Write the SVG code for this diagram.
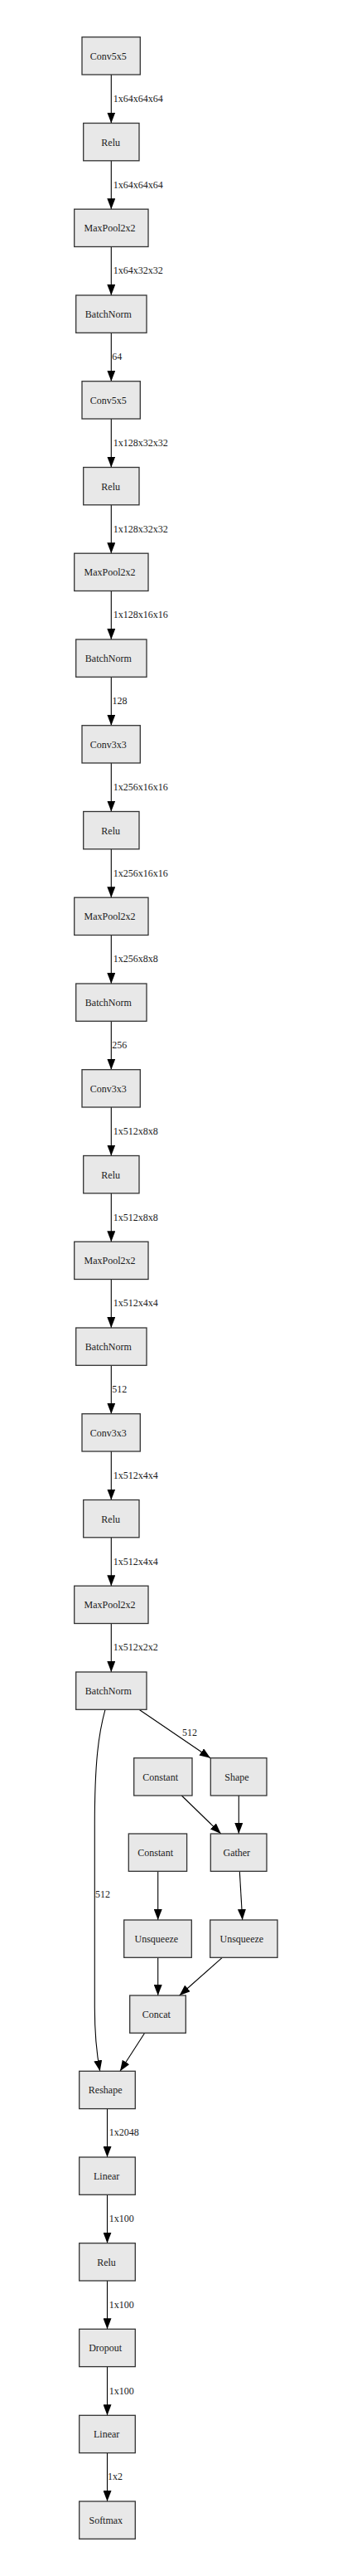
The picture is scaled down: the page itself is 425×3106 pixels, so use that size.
<svg xmlns="http://www.w3.org/2000/svg" width="425" height="3106" viewBox="0 0 425 3106">
<style>
.n rect{fill:#e8e8e8;stroke:#333;stroke-width:1.3}
.n text{font-family:"Liberation Serif","Times New Roman",serif;font-size:12px;fill:#1a1a1a;text-anchor:middle}
.e path,.e line{stroke:#000;stroke-width:1.1;fill:none;marker-end:url(#ah)}
.l{font-family:"Liberation Serif","Times New Roman",serif;font-size:12px;fill:#1a1a1a}
</style>
<defs>
<marker id="ah" markerUnits="userSpaceOnUse" viewBox="0 0 13 10" markerWidth="13" markerHeight="10" refX="13" refY="5" orient="auto">
<path d="M0,0 L13,5 L0,10 z" fill="#000"/>
</marker>
</defs>
<rect width="425" height="3106" fill="#fff"/>
<g id="connectors" class="e">
<line x1="134.3" y1="90" x2="134.3" y2="148.5"/>
<line x1="134.3" y1="193.8" x2="134.3" y2="252.2"/>
<line x1="134.3" y1="297.5" x2="134.3" y2="356"/>
<line x1="134.3" y1="401.3" x2="134.3" y2="459.7"/>
<line x1="134.3" y1="505" x2="134.3" y2="563.5"/>
<line x1="134.3" y1="608.8" x2="134.3" y2="667.2"/>
<line x1="134.3" y1="712.5" x2="134.3" y2="771"/>
<line x1="134.3" y1="816.3" x2="134.3" y2="874.7"/>
<line x1="134.3" y1="920" x2="134.3" y2="978.5"/>
<line x1="134.3" y1="1023.8" x2="134.3" y2="1082.2"/>
<line x1="134.3" y1="1127.5" x2="134.3" y2="1186"/>
<line x1="134.3" y1="1231.3" x2="134.3" y2="1289.7"/>
<line x1="134.3" y1="1335" x2="134.3" y2="1393.5"/>
<line x1="134.3" y1="1438.8" x2="134.3" y2="1497.2"/>
<line x1="134.3" y1="1542.5" x2="134.3" y2="1601"/>
<line x1="134.3" y1="1646.3" x2="134.3" y2="1704.7"/>
<line x1="134.3" y1="1750" x2="134.3" y2="1808.5"/>
<line x1="134.3" y1="1853.8" x2="134.3" y2="1912.2"/>
<line x1="134.3" y1="1957.5" x2="134.3" y2="2016"/>
<path d="M127,2061.3 C119,2090 114.3,2125 114.3,2200 L114.3,2420 C114.3,2455 117,2478 120.7,2497.3"/>
<line x1="168.3" y1="2061.5" x2="254" y2="2119.7"/>
<line x1="219.3" y1="2165" x2="266.7" y2="2211"/>
<line x1="288.3" y1="2165" x2="288.3" y2="2211"/>
<line x1="190.7" y1="2256.3" x2="190.7" y2="2315"/>
<line x1="289.3" y1="2256.3" x2="292.7" y2="2315"/>
<line x1="190.7" y1="2360.3" x2="190.7" y2="2406"/>
<line x1="268.3" y1="2360.3" x2="216.7" y2="2406"/>
<line x1="174.7" y1="2451.3" x2="145" y2="2497.3"/>
<line x1="129.5" y1="2542.6" x2="129.5" y2="2601"/>
<line x1="129.5" y1="2646.3" x2="129.5" y2="2704.7"/>
<line x1="129.5" y1="2750" x2="129.5" y2="2808.3"/>
<line x1="129.5" y1="2853.6" x2="129.5" y2="2912.3"/>
<line x1="129.5" y1="2957.6" x2="129.5" y2="3016"/>
</g>
<g id="edge-labels">
<text class="l" x="136.7" y="122.7">1x64x64x64</text>
<text class="l" x="136.7" y="226.5">1x64x64x64</text>
<text class="l" x="136.7" y="330.2">1x64x32x32</text>
<text class="l" x="135.3" y="434">64</text>
<text class="l" x="136.7" y="537.7">1x128x32x32</text>
<text class="l" x="136.7" y="641.5">1x128x32x32</text>
<text class="l" x="136.7" y="745.2">1x128x16x16</text>
<text class="l" x="135.5" y="849">128</text>
<text class="l" x="136.7" y="952.7">1x256x16x16</text>
<text class="l" x="136.7" y="1056.5">1x256x16x16</text>
<text class="l" x="136.7" y="1160.2">1x256x8x8</text>
<text class="l" x="135.3" y="1264">256</text>
<text class="l" x="136.7" y="1367.7">1x512x8x8</text>
<text class="l" x="136.7" y="1471.5">1x512x8x8</text>
<text class="l" x="136.7" y="1575.2">1x512x4x4</text>
<text class="l" x="135.3" y="1679">512</text>
<text class="l" x="136.7" y="1782.7">1x512x4x4</text>
<text class="l" x="136.7" y="1886.5">1x512x4x4</text>
<text class="l" x="136.7" y="1990.2">1x512x2x2</text>
<text class="l" x="220" y="2093">512</text>
<text class="l" x="115" y="2288">512</text>
<text class="l" x="131.7" y="2575">1x2048</text>
<text class="l" x="131.7" y="2679">1x100</text>
<text class="l" x="131.7" y="2782.7">1x100</text>
<text class="l" x="131.7" y="2886.7">1x100</text>
<text class="l" x="130" y="2990">1x2</text>
</g>
<g id="n0" class="n"><rect x="99" y="44.7" width="70.3" height="45.3"/><text x="130.8" y="71.7">Conv5x5</text></g>
<g id="n1" class="n"><rect x="100.7" y="148.5" width="67.3" height="45.3"/><text x="133.7" y="175.5">Relu</text></g>
<g id="n2" class="n"><rect x="89.7" y="252.2" width="89.3" height="45.3"/><text x="132.5" y="279.2">MaxPool2x2</text></g>
<g id="n3" class="n"><rect x="91.7" y="356" width="85.3" height="45.3"/><text x="130.8" y="383">BatchNorm</text></g>
<g id="n4" class="n"><rect x="99" y="459.7" width="70.3" height="45.3"/><text x="130.8" y="486.7">Conv5x5</text></g>
<g id="n5" class="n"><rect x="100.7" y="563.5" width="67.3" height="45.3"/><text x="133.7" y="590.5">Relu</text></g>
<g id="n6" class="n"><rect x="89.7" y="667.2" width="89.3" height="45.3"/><text x="132.5" y="694.2">MaxPool2x2</text></g>
<g id="n7" class="n"><rect x="91.7" y="771" width="85.3" height="45.3"/><text x="130.8" y="798">BatchNorm</text></g>
<g id="n8" class="n"><rect x="99" y="874.7" width="70.3" height="45.3"/><text x="130.8" y="901.7">Conv3x3</text></g>
<g id="n9" class="n"><rect x="100.7" y="978.5" width="67.3" height="45.3"/><text x="133.7" y="1005.5">Relu</text></g>
<g id="n10" class="n"><rect x="89.7" y="1082.2" width="89.3" height="45.3"/><text x="132.5" y="1109.2">MaxPool2x2</text></g>
<g id="n11" class="n"><rect x="91.7" y="1186" width="85.3" height="45.3"/><text x="130.8" y="1213">BatchNorm</text></g>
<g id="n12" class="n"><rect x="99" y="1289.7" width="70.3" height="45.3"/><text x="130.8" y="1316.7">Conv3x3</text></g>
<g id="n13" class="n"><rect x="100.7" y="1393.5" width="67.3" height="45.3"/><text x="133.7" y="1420.5">Relu</text></g>
<g id="n14" class="n"><rect x="89.7" y="1497.2" width="89.3" height="45.3"/><text x="132.5" y="1524.2">MaxPool2x2</text></g>
<g id="n15" class="n"><rect x="91.7" y="1601" width="85.3" height="45.3"/><text x="130.8" y="1628">BatchNorm</text></g>
<g id="n16" class="n"><rect x="99" y="1704.7" width="70.3" height="45.3"/><text x="130.8" y="1731.7">Conv3x3</text></g>
<g id="n17" class="n"><rect x="100.7" y="1808.5" width="67.3" height="45.3"/><text x="133.7" y="1835.5">Relu</text></g>
<g id="n18" class="n"><rect x="89.7" y="1912.2" width="89.3" height="45.3"/><text x="132.5" y="1939.2">MaxPool2x2</text></g>
<g id="n19" class="n"><rect x="91.7" y="2016" width="85.3" height="45.3"/><text x="130.8" y="2043">BatchNorm</text></g>
<g id="constant1" class="n"><rect x="161.7" y="2119.7" width="70.3" height="45.3"/><text x="193.7" y="2146.7">Constant</text></g>
<g id="shape" class="n"><rect x="254.3" y="2119.7" width="67.7" height="45.3"/><text x="286" y="2146.7">Shape</text></g>
<g id="constant2" class="n"><rect x="155.3" y="2211" width="70.3" height="45.3"/><text x="187.7" y="2238">Constant</text></g>
<g id="gather" class="n"><rect x="254.3" y="2211" width="67.7" height="45.3"/><text x="285.8" y="2238">Gather</text></g>
<g id="unsqueeze1" class="n"><rect x="149.7" y="2315" width="81.6" height="45.3"/><text x="188.8" y="2342">Unsqueeze</text></g>
<g id="unsqueeze2" class="n"><rect x="253.7" y="2315" width="81.3" height="45.3"/><text x="291.8" y="2342">Unsqueeze</text></g>
<g id="concat" class="n"><rect x="156.7" y="2406" width="67.6" height="45.3"/><text x="188.8" y="2433">Concat</text></g>
<g id="reshape" class="n"><rect x="95.7" y="2497.3" width="67.6" height="45.3"/><text x="127.2" y="2524.3">Reshape</text></g>
<g id="linear1" class="n"><rect x="95.7" y="2601" width="67.6" height="45.3"/><text x="128.7" y="2628">Linear</text></g>
<g id="relu5" class="n"><rect x="95.7" y="2704.7" width="67.6" height="45.3"/><text x="128.5" y="2731.7">Relu</text></g>
<g id="dropout" class="n"><rect x="95.7" y="2808.3" width="67.6" height="45.3"/><text x="127.2" y="2835.3">Dropout</text></g>
<g id="linear2" class="n"><rect x="95.7" y="2912.3" width="67.6" height="45.3"/><text x="128.7" y="2939.3">Linear</text></g>
<g id="softmax" class="n"><rect x="95.7" y="3016" width="67.6" height="45.3"/><text x="127.8" y="3043">Softmax</text></g>
</svg>
